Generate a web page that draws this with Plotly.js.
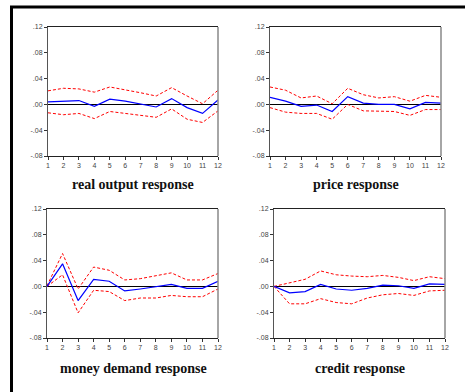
<!DOCTYPE html>
<html>
<head>
<meta charset="utf-8">
<script src="https://cdn.plot.ly/plotly-3.0.1.min.js"></script>
<style>html,body{margin:0;padding:0;background:#fff;}#chart{width:465px;height:392px;}</style>
</head>
<body>
<div id="chart"></div>
<script>
const periods = [1,2,3,4,5,6,7,8,9,10,11,12];

const outputResp  = [0.004,0.005,0.006,-0.003,0.008,0.005,0.001,-0.004,0.009,-0.005,-0.014,0.007];
const outputUpper = [0.021,0.025,0.024,0.019,0.027,0.023,0.018,0.013,0.026,0.013,0.001,0.022];
const outputLower = [-0.013,-0.016,-0.014,-0.022,-0.011,-0.014,-0.016,-0.020,-0.007,-0.023,-0.028,-0.010];

const priceResp  = [0.011,0.005,-0.003,-0.001,-0.011,0.012,0.002,0.000,0.000,-0.007,0.003,0.002];
const priceUpper = [0.027,0.022,0.010,0.013,0.001,0.025,0.015,0.010,0.012,0.005,0.014,0.011];
const priceLower = [-0.005,-0.012,-0.014,-0.014,-0.023,0.000,-0.010,-0.010,-0.011,-0.017,-0.008,-0.008];

const moneyResp  = [0.000,0.035,-0.022,0.011,0.008,-0.007,-0.004,-0.001,0.003,-0.003,-0.003,0.008];
const moneyUpper = [0.001,0.051,-0.004,0.030,0.025,0.010,0.012,0.017,0.021,0.010,0.010,0.020];
const moneyLower = [0.000,0.018,-0.041,-0.006,-0.008,-0.022,-0.018,-0.018,-0.014,-0.016,-0.016,-0.004];

const creditResp  = [0.000,-0.010,-0.008,0.003,-0.004,-0.006,-0.003,0.002,0.001,-0.003,0.004,0.003];
const creditUpper = [0.000,0.006,0.011,0.024,0.018,0.016,0.015,0.017,0.014,0.009,0.015,0.012];
const creditLower = [0.000,-0.027,-0.027,-0.019,-0.025,-0.027,-0.018,-0.013,-0.011,-0.014,-0.007,-0.006];

const yTickVals = [0.12,0.08,0.04,0.00,-0.04,-0.08];
const yTickText = ['.12','.08','.04','.00','-.04','-.08'];
const panelTitles = ['real output response','price response','money demand response','credit response'];

const panels = [
  [outputResp, outputUpper, outputLower],
  [priceResp, priceUpper, priceLower],
  [moneyResp, moneyUpper, moneyLower],
  [creditResp, creditUpper, creditLower]
];

const W = 465, H = 392;
const boxes = [
  {x0:48, x1:218, y0:27, y1:156},
  {x0:270, x1:441, y0:27, y1:156},
  {x0:47, x1:218, y0:209, y1:338},
  {x0:274, x1:445, y0:209, y1:338}
];
const titlePos = [
  {x:133, y:185},
  {x:356, y:185},
  {x:133, y:368},
  {x:360, y:368}
];

const traces = [];
const layout = {
  width: W, height: H,
  margin: {l:0, r:0, t:0, b:0},
  paper_bgcolor: '#fff', plot_bgcolor: '#fff',
  showlegend: false,
  shapes: [], annotations: []
};

panels.forEach((p, i) => {
  const n = i + 1;
  const xa = n === 1 ? 'x' : 'x' + n;
  const ya = n === 1 ? 'y' : 'y' + n;
  traces.push({x: periods, y: p[1], xaxis: xa, yaxis: ya, mode: 'lines', line: {color: '#ff0000', width: 1, dash: '3px,2px'}, hoverinfo: 'skip'});
  traces.push({x: periods, y: p[2], xaxis: xa, yaxis: ya, mode: 'lines', line: {color: '#ff0000', width: 1, dash: '3px,2px'}, hoverinfo: 'skip'});
  traces.push({x: periods, y: p[0], xaxis: xa, yaxis: ya, mode: 'lines', line: {color: '#0000ff', width: 1.2}, hoverinfo: 'skip'});
  const b = boxes[i];
  const xName = n === 1 ? 'xaxis' : 'xaxis' + n;
  const yName = n === 1 ? 'yaxis' : 'yaxis' + n;
  layout[xName] = {
    domain: [b.x0 / W, b.x1 / W], anchor: ya,
    range: [1, 12], tickvals: periods, ticks: 'outside', ticklen: 3, tickwidth: 1, tickcolor: '#333',
    showgrid: false, zeroline: false, showline: true, linecolor: '#222', linewidth: 1, mirror: true,
    tickfont: {family: 'Liberation Sans, Arial, sans-serif', size: 7, color: '#444'}
  };
  layout[yName] = {
    domain: [1 - b.y1 / H, 1 - b.y0 / H], anchor: xa,
    range: [-0.08, 0.12], tickvals: yTickVals, ticktext: yTickText, ticks: 'outside', ticklen: 3, tickwidth: 1, tickcolor: '#333',
    showgrid: false, zeroline: true, zerolinecolor: '#000', zerolinewidth: 1.3,
    showline: true, linecolor: '#555', linewidth: 1, mirror: false,
    tickfont: {family: 'Liberation Sans, Arial, sans-serif', size: 7, color: '#444'}
  };
  // gray right edge of the frame
  layout.shapes.push({type: 'line', xref: xa + ' domain', yref: ya + ' domain', x0: 1, x1: 1, y0: 0, y1: 1, line: {color: '#888', width: 1.5}});
  layout.annotations.push({
    xref: 'paper', yref: 'paper', x: titlePos[i].x / W, y: 1 - titlePos[i].y / H,
    text: '<b>' + panelTitles[i] + '</b>', showarrow: false, xanchor: 'center', yanchor: 'middle',
    font: {family: 'Liberation Serif, Times New Roman, serif', size: 14, color: '#111'}
  });
});

layout.shapes.push({type: 'line', xref: 'paper', yref: 'paper', x0: 10 / W, x1: 1, y0: 1 - 7 / H, y1: 1 - 7 / H, line: {color: '#000', width: 3}});
layout.shapes.push({type: 'line', xref: 'paper', yref: 'paper', x0: 11.5 / W, x1: 11.5 / W, y0: 1 - 6 / H, y1: 0, line: {color: '#000', width: 3}});

Plotly.newPlot('chart', traces, layout, {staticPlot: true, displayModeBar: false});
</script>
</body>
</html>
